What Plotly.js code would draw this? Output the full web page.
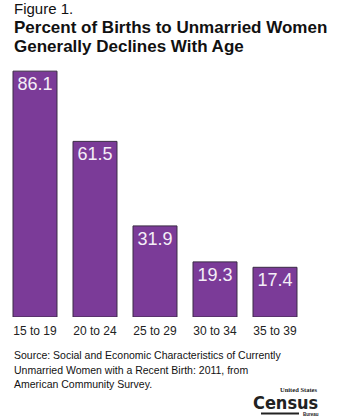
<!DOCTYPE html>
<html>
<head>
<meta charset="utf-8">
<script src="https://cdn.plot.ly/plotly-3.0.1.min.js"></script>
<style>
html,body{margin:0;padding:0;background:#fff;}
#chart{width:341px;height:420px;}
</style>
</head>
<body>
<div id="chart"></div>
<script>
var ageGroups = ["15 to 19", "20 to 24", "25 to 29", "30 to 34", "35 to 39"];
var percentUnmarried = [86.1, 61.5, 31.9, 19.3, 17.4];
var valueLabels = ["86.1", "61.5", "31.9", "19.3", "17.4"];
var titleLines = ["Figure 1.", "<b>Percent of Births to Unmarried Women</b>", "<b>Generally Declines With Age</b>"];
var sourceLines = ["Source: Social and Economic Characteristics of Currently",
                   "Unmarried Women with a Recent Birth: 2011, from",
                   "American Community Survey."];

var W = 341, H = 420;
var mL = 5, mR = 36, mT = 60, mB = 103;
var pw = W - mL - mR, ph = H - mT - mB;
function px(x){ return (x - mL) / pw; }
function py(y){ return (H - mB - y) / ph; }

var FONT = "Liberation Sans, Arial, Helvetica, sans-serif";

var trace = {
  type: "bar",
  x: ageGroups,
  y: percentUnmarried,
  text: valueLabels,
  textposition: "inside",
  insidetextanchor: "end",
  textangle: 0,
  constraintext: "none",
  insidetextfont: {family: FONT, size: 18, color: "#f4eef7"},
  marker: {color: "#7b3b98", line: {color: "#3a2b44", width: 1}},
  hoverinfo: "none"
};

var annotations = [];
var titleY = [8.2, 27.2, 46.6];
var titleSize = [15, 17, 17];
titleLines.forEach(function(t, i){
  annotations.push({xref:"paper", yref:"paper", x:px(12), y:py(titleY[i]), xanchor:"left", yanchor:"middle",
    text:t, showarrow:false, font:{family:FONT, size:titleSize[i], color:"#111"}});
});
var srcY = [355.2, 370.2, 384.4];
sourceLines.forEach(function(t, i){
  annotations.push({xref:"paper", yref:"paper", x:px(12), y:py(srcY[i]), xanchor:"left", yanchor:"middle",
    text:t, showarrow:false, font:{family:FONT, size:10.5, color:"#111"}});
});
// Census logo
annotations.push({xref:"paper", yref:"paper", x:px(319), y:py(389.5), xanchor:"right", yanchor:"middle",
  text:"<b>United States</b>", showarrow:false, font:{family:"Liberation Serif, serif", size:6.5, color:"#222"}});
annotations.push({xref:"paper", yref:"paper", x:px(320), y:py(402.5), xanchor:"right", yanchor:"middle",
  text:"<b>Census</b>", showarrow:false, font:{family:"Liberation Sans Narrow, DejaVu Sans Condensed, Arial Narrow, sans-serif", size:18, color:"#222"}});
annotations.push({xref:"paper", yref:"paper", x:px(301), y:py(414), xanchor:"left", yanchor:"middle",
  text:"<b>Bureau</b>", showarrow:false, font:{family:FONT, size:4.5, color:"#222"}});

var layout = {
  width: W, height: H,
  margin: {l:mL, r:mR, t:mT, b:mB, pad:0},
  paper_bgcolor: "#ffffff",
  plot_bgcolor: "#ffffff",
  showlegend: false,
  bargap: 0.267,
  xaxis: {type:"category", showline:false, showgrid:false, zeroline:false, ticks:"",
          ticklabelstandoff: 5,
          tickfont:{family:FONT, size:12, color:"#222"}, fixedrange:true},
  yaxis: {range:[0, 90], visible:false, fixedrange:true},
  annotations: annotations,
  shapes: [{type:"line", xref:"paper", yref:"paper", x0:px(261), x1:px(299), y0:py(413.5), y1:py(413.5),
            line:{color:"#222", width:2}}]
};

Plotly.newPlot("chart", [trace], layout, {displayModeBar:false, staticPlot:true});
</script>
</body>
</html>
